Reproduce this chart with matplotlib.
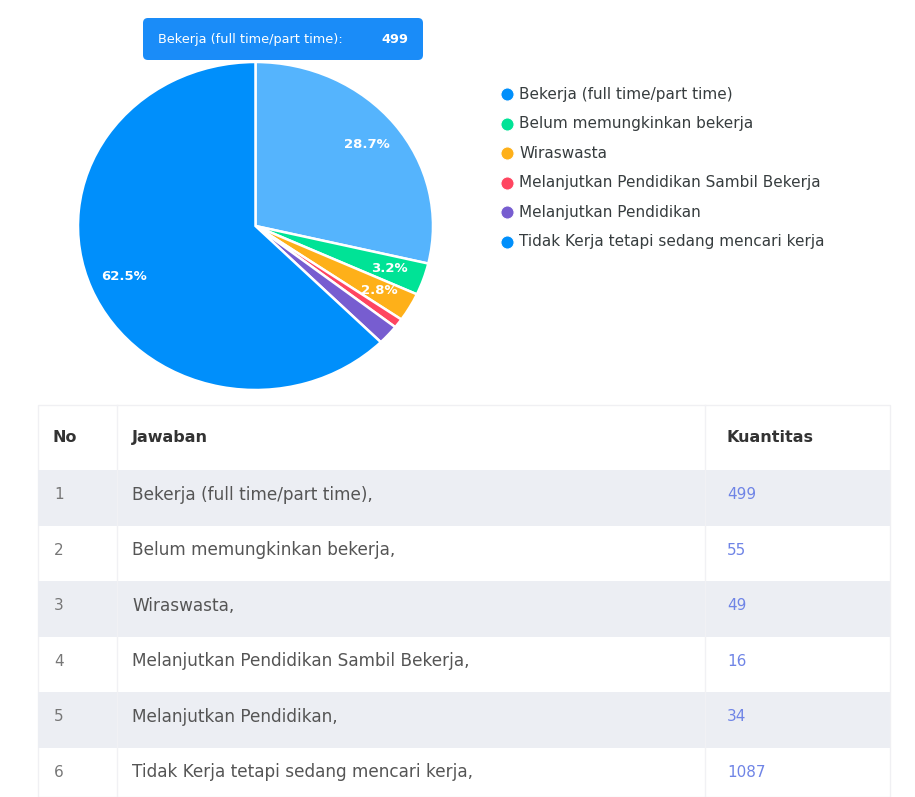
import math
import matplotlib
matplotlib.use("Agg")
import matplotlib.pyplot as plt
from matplotlib.patches import Rectangle, FancyBboxPatch
from matplotlib.lines import Line2D

# Survey answers and counts
categories = [
    "Bekerja (full time/part time)",
    "Belum memungkinkan bekerja",
    "Wiraswasta",
    "Melanjutkan Pendidikan Sambil Bekerja",
    "Melanjutkan Pendidikan",
    "Tidak Kerja tetapi sedang mencari kerja",
]
counts = [499, 55, 49, 16, 34, 1087]
row_numbers = ["1", "2", "3", "4", "5", "6"]
table_headers = ["No", "Jawaban", "Kuantitas"]
colors = ["#008FFB", "#00E396", "#FEB019", "#FF4560", "#775DD0", "#008FFB"]
highlight_color = "#55b4fd"   # hovered slice
highlight_index = 0

plt.rcParams["font.family"] = ["DejaVu Sans"]

W, H = 915, 797
fig = plt.figure(figsize=(W / 100, H / 100), dpi=100)
fig.patch.set_facecolor("white")

# Overlay axes in pixel coordinates for table, legend and tooltip
ax0 = fig.add_axes([0, 0, 1, 1])
ax0.set_xlim(0, W)
ax0.set_ylim(H, 0)
ax0.axis("off")

# ---- Pie ----
px, py, pw, ph = 78, 62, 355, 328
axp = fig.add_axes([px / W, 1 - (py + ph) / H, pw / W, ph / H])
slice_colors = list(colors)
slice_colors[highlight_index] = highlight_color
total = sum(counts)
wedges, _ = axp.pie(counts, colors=slice_colors, startangle=90, counterclock=False,
                    radius=1.0, wedgeprops=dict(edgecolor="white", linewidth=1.8))
axp.set_xlim(-1.0, 1.0)
axp.set_ylim(-1.0, 1.0)
axp.set_aspect("auto")
axp.axis("off")

cum = 0
for v in counts:
    frac = v / total
    mid = 90 - (cum + frac / 2) * 360
    cum += frac
    if frac * 360 >= 10:
        r = 0.8
        axp.text(r * math.cos(math.radians(mid)), r * math.sin(math.radians(mid)),
                 f"{frac * 100:.1f}%", color="white", fontsize=9.5, fontweight="bold",
                 ha="center", va="center")

# ---- Tooltip ----
tip = FancyBboxPatch((143, 18), 280, 42, boxstyle="round,pad=0,rounding_size=5",
                     facecolor="#1a8cf8", edgecolor="none")
ax0.add_patch(tip)
ax0.text(158, 39, categories[highlight_index] + ":", color="white", fontsize=9.3,
         ha="left", va="center")
ax0.text(381, 39, str(counts[highlight_index]), color="white", fontsize=9.3,
         fontweight="bold", ha="left", va="center")

# ---- Legend ----
leg_y0, leg_dy = 94, 29.5
for i, (lab, c) in enumerate(zip(categories, colors)):
    y = leg_y0 + i * leg_dy
    ax0.plot([507], [y], marker="o", markersize=9.5, color=c, markeredgecolor="white",
             markeredgewidth=0.8)
    ax0.text(519, y, lab, fontsize=11, color="#373d3f", ha="left", va="center")

# ---- Table ----
tx0, tx1 = 38, 890
header_top, header_bot = 405, 470
row_h = 55.5
ax0.add_patch(Rectangle((tx0, header_top), tx1 - tx0, H - header_top,
                        facecolor="white", edgecolor="#f0f0f3", linewidth=1))
for x, hdr in zip((52, 132, 727), table_headers):
    ax0.text(x, 437, hdr, fontsize=11.5, color="#333333", va="center", fontweight="semibold")
for xv in (117, 705):
    ax0.add_line(Line2D([xv, xv], [header_top, H], color="#f1f1f4", linewidth=1))

for i, (n, lab, v) in enumerate(zip(row_numbers, categories, counts)):
    top = header_bot + i * row_h
    if i % 2 == 0:
        ax0.add_patch(Rectangle((tx0, top), tx1 - tx0, row_h, facecolor="#eceef3",
                                edgecolor="none"))
    yc = top + row_h / 2 - 3
    ax0.text(54, yc, n, fontsize=11, color="#777777", va="center")
    ax0.text(132, yc, lab + ",", fontsize=12.2, color="#555555", va="center")
    ax0.text(727, yc, str(v), fontsize=11, color="#6f84e6", va="center")

fig.savefig("out.png", dpi=100, facecolor="white")
